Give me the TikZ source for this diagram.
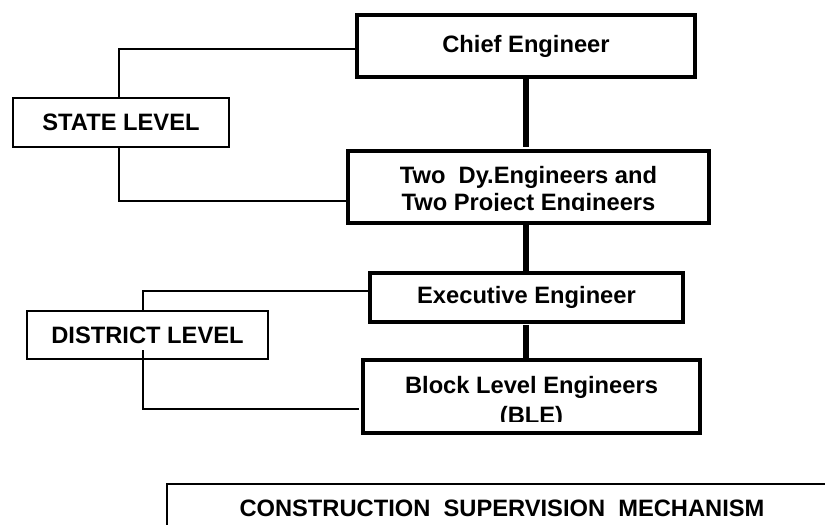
\documentclass[tikz,border=0pt]{standalone}
\usepackage{fontspec}
\setmainfont{Liberation Sans}

\begin{document}

\begin{tikzpicture}[x=1pt, y=-1pt]
    \tikzstyle{every node}=[font=\fontsize{23.7}{27}\selectfont\bfseries, inner sep=0pt, outer sep=0pt]
    \tikzstyle{post}=[draw, line width=3.5pt]
    \tikzstyle{level}=[draw, line width=1.8pt]
    \tikzstyle{link}=[line width=6pt]
    \tikzstyle{bracket}=[line width=1.8pt]
    \tikzstyle{lines}=[align=center]

    \useasboundingbox (0,0) rectangle (825,525);

    \node[post, minimum width=338pt, minimum height=62pt] (CE) at (526, 46) {Chief Engineer};
    \node[post, minimum width=361pt, minimum height=72pt] (DE) at (528.5, 187) {};
    \node[post, minimum width=313pt, minimum height=49pt] (EE) at (526.5, 297.5) {Executive Engineer};
    \node[post, minimum width=337pt, minimum height=73pt] (BE) at (531.5, 396.5) {};

    \node[level, minimum width=216pt, minimum height=49pt] (SL) at (121, 122.5) {STATE LEVEL};
    \node[level, minimum width=241pt, minimum height=48pt] (DL) at (147.5, 335) {DISTRICT LEVEL};

    \node[level, minimum width=670pt, minimum height=49pt] (CS) at (502, 508.5) {CONSTRUCTION\ \ SUPERVISION\ \ MECHANISM};

    % two-line labels, cut off at the bottom
    \begin{scope}
        \clip (DE.north west) rectangle (709, 210.5);
        \node[lines] (DE-t) at (528.5, 191.4) {Two\ \ Dy.Engineers and\\Two Project Engineers};
    \end{scope}
    \begin{scope}
        \clip (BE.north west) rectangle (700, 421.5);
        \node[lines] (BE-t) at (531.5, 402) {Block Level Engineers\\[3pt](BLE)};
    \end{scope}

    \draw[link, shorten >=4pt] (CE.south) -- (CE.south |- DE.north);
    \draw[link] (DE.south -| CE.south) -- (EE.north -| CE.south);
    \draw[link, shorten <=3pt] (EE.south -| CE.south) -- (BE.north -| CE.south);

    \draw[bracket] ([xshift=-2pt]SL.north) |- ([yshift=-3pt]CE.west);
    \draw[bracket] ([xshift=-2pt]SL.south) |- ([yshift=-14pt]DE.west);
    \draw[bracket] ([xshift=-4.5pt]DL.north) |- ([yshift=6.5pt]EE.west);
    \draw[bracket] ([xshift=-4.5pt,yshift=9pt]DL.south) |- ([xshift=-4pt,yshift=-12.5pt]BE.west);

\end{tikzpicture}
\end{document}
